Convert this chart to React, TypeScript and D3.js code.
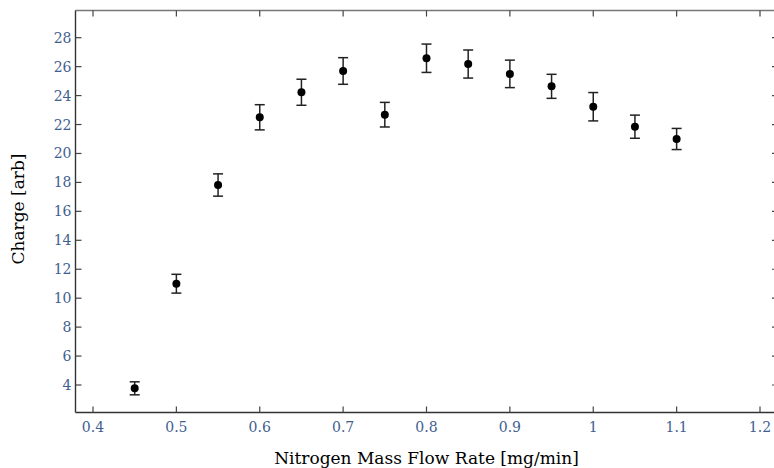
import React from "react";
import * as d3 from "d3";

const flowRate = [0.45, 0.5, 0.55, 0.6, 0.65, 0.7, 0.75, 0.8, 0.85, 0.9, 0.95, 1.0, 1.05, 1.1];
const charge = [3.77, 11.0, 17.82, 22.5, 24.23, 25.7, 22.68, 26.58, 26.18, 25.5, 24.64, 23.23, 21.85, 21.0];
const chargeErr = [0.45, 0.65, 0.77, 0.87, 0.9, 0.92, 0.85, 0.98, 0.97, 0.95, 0.83, 0.98, 0.8, 0.73];
const xTicks = [0.4, 0.5, 0.6, 0.7, 0.8, 0.9, 1.0, 1.1, 1.2];
const yTicks = [4, 6, 8, 10, 12, 14, 16, 18, 20, 22, 24, 26, 28];

const W = 774;
const H = 468;
const left = 75.5;
const right = 778;
const top = 10.5;
const bottom = 412.5;

export default function App() {
  const x = d3.scaleLinear().domain([0.4, 1.2]).range([93, 760]);
  const y = d3.scaleLinear().domain([4, 28]).range([385, 37.7]);
  const font = "'DejaVu Serif', serif";
  const tickColor = "#41608f";
  const tl = 6;
  return (
    <svg width={W} height={H} style={{ position: "absolute", left: 0, top: 0, background: "#fff" }}>
      <rect x={0} y={0} width={W} height={H} fill="#fff" />
      {/* frame */}
      <line x1={left} x2={right} y1={top} y2={top} stroke="#777" strokeWidth={1.3} />
      <line x1={right} x2={right} y1={top} y2={bottom} stroke="#777" strokeWidth={1.3} />
      <line x1={left} x2={left} y1={top} y2={bottom} stroke="#333" strokeWidth={1.4} />
      <line x1={left} x2={right} y1={bottom} y2={bottom} stroke="#333" strokeWidth={1.4} />
      {/* x ticks */}
      {xTicks.map((t) => (
        <g key={"x" + t}>
          <line x1={x(t)} x2={x(t)} y1={bottom} y2={bottom - tl} stroke="#444" strokeWidth={1.2} />
          <line x1={x(t)} x2={x(t)} y1={top} y2={top + tl} stroke="#444" strokeWidth={1.2} />
          <text x={x(t)} y={bottom + 19.5} textAnchor="middle" fontFamily={font} fontSize={14} fill={tickColor}>
            {d3.format("~g")(t)}
          </text>
        </g>
      ))}
      {/* y ticks */}
      {yTicks.map((t) => (
        <g key={"y" + t}>
          <line x1={left} x2={left + tl} y1={y(t)} y2={y(t)} stroke="#444" strokeWidth={1.2} />
          <line x1={right} x2={right - tl} y1={y(t)} y2={y(t)} stroke="#444" strokeWidth={1.2} />
          <text x={left - 4} y={y(t) + 5} textAnchor="end" fontFamily={font} fontSize={14} fill={tickColor}>
            {t}
          </text>
        </g>
      ))}
      {/* error bars and points */}
      {flowRate.map((f, i) => {
        const cx = x(f);
        const y1 = y(charge[i] + chargeErr[i]);
        const y2 = y(charge[i] - chargeErr[i]);
        return (
          <g key={"p" + i}>
            <line x1={cx} x2={cx} y1={y1} y2={y2} stroke="#222" strokeWidth={1.5} />
            <line x1={cx - 5} x2={cx + 5} y1={y1} y2={y1} stroke="#222" strokeWidth={1.5} />
            <line x1={cx - 5} x2={cx + 5} y1={y2} y2={y2} stroke="#222" strokeWidth={1.5} />
            <circle cx={cx} cy={y(charge[i])} r={4} fill="#000" />
          </g>
        );
      })}
      {/* axis labels */}
      <text x={426.5} y={463.5} textAnchor="middle" fontFamily={font} fontSize={17} fill="#000">
        Nitrogen Mass Flow Rate [mg/min]
      </text>
      <text
        transform={`translate(23.5, 209) rotate(-90)`}
        textAnchor="middle"
        fontFamily={font}
        fontSize={17}
        fill="#000"
      >
        Charge [arb]
      </text>
    </svg>
  );
}
